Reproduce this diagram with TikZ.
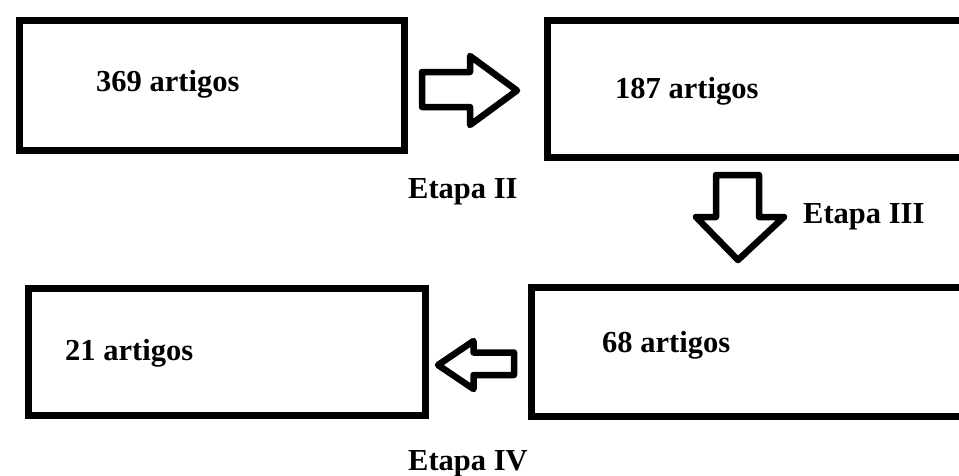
\documentclass[tikz,border=0pt]{standalone}
\usepackage{fontspec}
\setmainfont{Liberation Serif}
\begin{document}
\begin{tikzpicture}[x=1pt, y=-1pt,
  box/.style={draw=black, line width=7pt, fill=white, rectangle, inner sep=0pt, anchor=north west},
  blockarrow/.style={draw=black, line width=6.5pt, line join=round, fill=white},
  label/.style={font=\fontsize{30.5}{36}\selectfont\bfseries, inner sep=0pt, anchor=base west}]
  \useasboundingbox (0,0) rectangle (959,475);
  \clip (0,0) rectangle (959,475);
  \fill[white] (0,0) rectangle (959,475);

  % the four stage boxes
  \node (b1) [box, minimum width=385pt, minimum height=130pt] at (15.5,16.5) {};
  \node (b2) [box, minimum width=416.5pt, minimum height=137pt] at (543.5,16.5) {};
  \node (b3) [box, minimum width=447.5pt, minimum height=129pt] at (527.5,283.5) {};
  \node (b4) [box, minimum width=397pt, minimum height=127pt] at (24.5,284.5) {};

  % counts inside the boxes
  \node (t1) [label] at (96,91) {369 artigos};
  \node (t2) [label] at (615,98) {187 artigos};
  \node (t3) [label] at (602,352) {68 artigos};
  \node (t4) [label] at (65,360) {21 artigos};

  % block arrows between the stages
  \draw[blockarrow] (422,72) -- (470,72) -- (470,56) -- (517,90.5)
    -- (470,125) -- (470,107) -- (422,107) -- cycle;
  \draw[blockarrow] (716,175) -- (759,175) -- (759,217) -- (784,217)
    -- (738,260) -- (696,217) -- (716,217) -- cycle;
  \draw[blockarrow] (514,352.5) -- (473.5,352.5) -- (473.5,341) -- (438,365)
    -- (473.5,389) -- (473.5,375) -- (514,375) -- cycle;

  % stage labels
  \node (e2) [label] at (408,198) {Etapa II};
  \node (e3) [label] at (803,223) {Etapa III};
  \node (e4) [label] at (408,470) {Etapa IV};
\end{tikzpicture}
\end{document}
